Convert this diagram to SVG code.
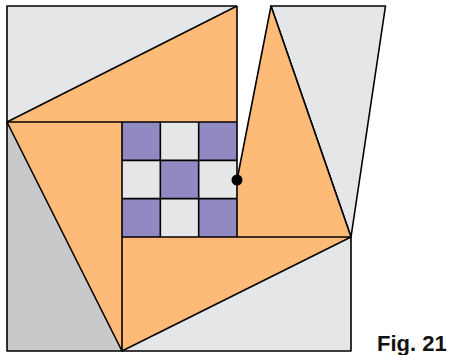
<svg xmlns="http://www.w3.org/2000/svg" width="453" height="355" viewBox="0 0 453 355">
<style>
.o{fill:#fdbb77}
.g{fill:#e5e6e7}
.d{fill:#c8c9ca}
.p{fill:#9189c2}
.s{stroke:#000;stroke-width:1.6;stroke-linejoin:round}
.ln{fill:none;stroke:#000;stroke-width:1.6;stroke-linejoin:round}
.t{font-family:"Liberation Sans",Arial,sans-serif;font-weight:bold;font-size:22px;fill:#111}
</style>
<rect width="453" height="355" fill="#fff"/>
<g id="gray-pieces">
<polygon class="g" points="7,6 237,6 7,122"/>
<polygon class="d" points="7,122 122,351 7,351"/>
<polygon class="g" points="122,351 351,351 351,237"/>
<polygon class="g s" points="271,6 385.5,6 351,237"/>
</g>
<g id="orange-pieces">
<polygon class="o" points="7,122 237,6 237,122"/>
<polygon class="o" points="7,122 122,122 122,351"/>
<polygon class="o" points="122,351 122,237 351,237"/>
<polygon class="o" points="271,6 351,237 237,237 237,180"/>
</g>
<g id="grid">
<rect class="p" x="122" y="122" width="38.33" height="38.33"/>
<rect class="g" x="160.33" y="122" width="38.33" height="38.33"/>
<rect class="p" x="198.67" y="122" width="38.33" height="38.33"/>
<rect class="g" x="122" y="160.33" width="38.33" height="38.33"/>
<rect class="p" x="160.33" y="160.33" width="38.33" height="38.33"/>
<rect class="g" x="198.67" y="160.33" width="38.33" height="38.33"/>
<rect class="p" x="122" y="198.67" width="38.33" height="38.33"/>
<rect class="g" x="160.33" y="198.67" width="38.33" height="38.33"/>
<rect class="p" x="198.67" y="198.67" width="38.33" height="38.33"/>
</g>
<g id="connectors">
<polyline class="ln" points="237,6 7,6 7,351 351,351 351,237"/>
<polyline class="ln" points="237,6 237,237"/>
<polyline class="ln" points="7,122 237,6"/>
<polyline class="ln" points="7,122 122,351 351,237 271,6 237,180"/>
<line class="ln" x1="7" y1="122" x2="237" y2="122"/>
<line class="ln" x1="122" y1="122" x2="122" y2="351"/>
<line class="ln" x1="122" y1="237" x2="351" y2="237"/>
<line class="ln" x1="160.33" y1="122" x2="160.33" y2="237"/>
<line class="ln" x1="198.67" y1="122" x2="198.67" y2="237"/>
<line class="ln" x1="122" y1="160.33" x2="237" y2="160.33"/>
<line class="ln" x1="122" y1="198.67" x2="237" y2="198.67"/>
</g>
<g id="dot">
<circle cx="237" cy="180" r="5.5" fill="#000"/>
</g>
<g id="label">
<text class="t" x="377" y="351">Fig. 21</text>
</g>
</svg>
